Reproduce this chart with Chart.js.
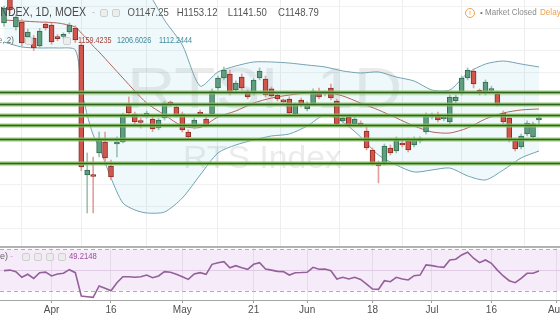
<!DOCTYPE html>
<html>
<head>
<meta charset="utf-8">
<script src="https://cdn.jsdelivr.net/npm/chart.js@4.4.1/dist/chart.umd.min.js"></script>
<style>
  html, body { margin: 0; padding: 0; background: #fff; }
  #wrap { position: relative; width: 560px; height: 315px; overflow: hidden; }
  #main { position: absolute; left: 0; top: 0; }
  #rsi { position: absolute; left: 0; top: 245px; }
</style>
</head>
<body>
<div id="wrap">
  <canvas id="main" width="560" height="247"></canvas>
  <canvas id="rsi" width="560" height="70"></canvas>
</div>
<script>
// daily candles, RTS Index, one entry per trading day (index 0 = 21 Mar)
const opens = [1256.0, 1289.0, 1251.5, 1257.1, 1240.3, 1239.1, 1230.1, 1254.8, 1253.7, 1240.3,
  1241.0, 1245.9, 1250.4, 1231.3, 1085.3, 1084.8, 1110.0, 1122.3, 1095.4, 1120.1,
  1122.3, 1163.9, 1153.8, 1144.8, 1151.5, 1148.2, 1138.1, 1149.3, 1166.1, 1161.6,
  1153.8, 1133.6, 1139.2, 1156.0, 1148.2, 1153.8, 1183.0, 1194.2, 1198.7, 1180.7,
  1195.3, 1177.4, 1177.4, 1194.2, 1193.1, 1181.9, 1175.1, 1167.8, 1170.6, 1153.8,
  1169.5, 1159.4, 1165.0, 1178.5, 1176.8, 1183.0, 1168.4, 1146.0, 1150.4, 1142.6,
  1143.7, 1134.7, 1113.3, 1098.8, 1098.8, 1115.6, 1112.2, 1120.1, 1123.5, 1119.0,
  1123.5, 1133.6, 1151.0, 1152.7, 1148.2, 1144.8, 1168.4, 1177.4, 1194.2, 1202.1,
  1178.5, 1177.4, 1180.2, 1176.2, 1154.9, 1149.3, 1123.5, 1116.7, 1131.3, 1128.0,
  1147.25]
const highs = [1275.0, 1292.0, 1265.0, 1260.0, 1249.0, 1242.0, 1250.0, 1257.5, 1256.0, 1243.0,
  1245.0, 1256.0, 1253.0, 1233.0, 1110.0, 1105.5, 1133.6, 1133.6, 1102.0, 1128.0,
  1154.9, 1172.9, 1156.0, 1149.0, 1157.0, 1151.0, 1149.0, 1168.4, 1168.4, 1164.0,
  1156.0, 1136.0, 1149.3, 1158.3, 1151.0, 1181.9, 1196.4, 1206.6, 1203.2, 1191.0,
  1198.7, 1181.0, 1194.2, 1205.5, 1196.4, 1184.1, 1177.4, 1170.6, 1173.0, 1166.1,
  1171.7, 1167.3, 1181.9, 1183.0, 1179.6, 1187.5, 1170.6, 1151.5, 1152.7, 1150.4,
  1146.0, 1139.2, 1115.6, 1101.0, 1120.1, 1119.0, 1128.0, 1124.6, 1127.0, 1128.0,
  1128.0, 1155.0, 1154.9, 1156.0, 1151.5, 1175.1, 1175.1, 1196.4, 1205.5, 1204.4,
  1181.9, 1192.0, 1185.0, 1179.6, 1157.2, 1151.5, 1126.0, 1131.3, 1146.0, 1144.8,
  1153.12]
const lows = [1252.0, 1266.5, 1248.0, 1230.0, 1237.0, 1225.0, 1228.0, 1248.0, 1232.0, 1236.0,
  1238.0, 1244.0, 1234.0, 1090.0, 1042.6, 1042.6, 1105.5, 1096.5, 1079.7, 1105.5,
  1121.2, 1152.7, 1142.6, 1138.0, 1149.0, 1134.0, 1136.0, 1147.0, 1163.0, 1150.4,
  1133.6, 1125.7, 1137.0, 1151.5, 1139.2, 1151.5, 1180.7, 1192.0, 1175.1, 1178.0,
  1180.7, 1170.6, 1175.1, 1192.0, 1172.9, 1171.7, 1168.4, 1165.0, 1152.7, 1151.5,
  1161.6, 1157.2, 1163.0, 1170.6, 1174.0, 1169.5, 1140.3, 1143.7, 1139.2, 1140.3,
  1139.2, 1113.3, 1096.5, 1076.3, 1096.5, 1107.7, 1110.0, 1116.7, 1111.1, 1116.7,
  1121.2, 1131.3, 1148.2, 1144.8, 1146.0, 1142.6, 1166.1, 1175.1, 1192.0, 1183.0,
  1175.1, 1175.1, 1177.4, 1162.7, 1142.6, 1122.3, 1112.2, 1114.5, 1129.1, 1125.7,
  1141.50]
const closes = [1272.8, 1270.6, 1262.7, 1233.5, 1245.9, 1227.9, 1247.0, 1250.4, 1234.6, 1238.5,
  1242.0, 1253.7, 1236.9, 1094.3, 1090.9, 1083.6, 1125.7, 1104.4, 1083.0, 1120.8,
  1152.7, 1154.9, 1144.8, 1144.2, 1154.9, 1136.9, 1147.0, 1166.1, 1165.0, 1152.7,
  1135.8, 1128.0, 1147.0, 1153.8, 1141.4, 1179.6, 1194.2, 1203.2, 1177.4, 1188.6,
  1183.0, 1172.9, 1192.0, 1202.1, 1175.1, 1174.0, 1170.6, 1167.3, 1154.9, 1163.9,
  1163.9, 1165.0, 1179.6, 1172.9, 1177.4, 1171.7, 1142.6, 1149.3, 1141.4, 1148.2,
  1141.4, 1115.6, 1098.8, 1095.4, 1117.8, 1110.0, 1124.6, 1119.0, 1113.3, 1125.7,
  1125.7, 1152.7, 1152.0, 1147.0, 1148.8, 1172.9, 1172.9, 1194.2, 1203.2, 1187.5,
  1178.0, 1189.7, 1180.7, 1165.0, 1144.8, 1124.6, 1114.5, 1129.1, 1143.7, 1142.6,
  1148.79]

// Bollinger Bands (20, 2) read at these candle indexes
const bandIdx = [0, 3, 6, 9, 12, 13, 14, 15, 16, 18, 20, 22, 24, 27, 30, 33, 36, 39, 42, 45,
  48, 51, 54, 57, 60, 63, 66, 69, 72, 75, 78, 81, 84, 87, 90]
const bbUpper = [1290, 1288, 1286, 1284, 1284, 1300, 1310, 1315, 1318, 1320, 1315, 1305, 1293, 1259.3, 1231.3,
  1185.2, 1201.0, 1207.7, 1212.2, 1212.2, 1211.0, 1208.8, 1206.6, 1202.1, 1199.8, 1201.0, 1195.3, 1190.8,
  1180.7, 1180.7, 1199.8, 1209.9, 1213.3, 1209.9, 1206.6026]
const bbBasis = [1259.3, 1258.2, 1257.1, 1256.0, 1251.5, 1244.7, 1238.0, 1230.1, 1223.4, 1208.8, 1194.2,
  1179.6, 1166.1, 1152.7, 1140.3, 1138.6, 1150.4, 1157.2, 1166.1, 1171.7, 1175.1, 1177.4, 1178.5, 1174.0,
  1166.1, 1158.3, 1149.3, 1140.3, 1133.6, 1132.4, 1138.1, 1148.2, 1154.9, 1158.3, 1159.4235]
const bbLower = [1234.6, 1229.0, 1227.9, 1227.9, 1225.7, 1183.0, 1152.7, 1130.2, 1116.7, 1081.9, 1053.8,
  1046.0, 1042.6, 1043.7, 1059.4, 1085.3, 1110.0, 1119.0, 1124.6, 1129.1, 1131.3, 1140.3, 1152.7, 1144.8,
  1128.0, 1107.7, 1096.5, 1088.6, 1090.9, 1093.1, 1084.2, 1079.7, 1090.9, 1104.4, 1112.2444]

// RSI (14), one value per candle
const rsi = [49.5, 50, 48.5, 43, 46, 42, 47.5, 48, 44.3, 46.2,
  46.9, 50.4, 47.5, 24.9, 24.2, 23.6, 34.6, 32.3, 30, 37.8,
  43.6, 43.6, 43, 43.6, 45.2, 42.6, 44.3, 48.5, 47.9, 45.9,
  43.6, 41, 46.2, 47.5, 45.9, 55.6, 57.2, 58.2, 52.3, 54.3,
  52.3, 50.8, 55.6, 57.2, 51, 50, 48.8, 48.5, 45.2, 47.5,
  47.6, 47.9, 52.7, 50.8, 51, 49.4, 41.4, 43, 41.4, 43,
  41, 36.5, 31.6, 31.3, 39.7, 38.7, 43, 41.4, 40.4, 44.6,
  45.2, 55, 54.3, 53.3, 52.7, 59.8, 60.5, 64.7, 67.3, 61.5,
  57.2, 59.8, 56.6, 50, 44.3, 39.7, 37.8, 42, 46.9, 46.9,
  49.2148]

// support / resistance lines drawn on the chart
const levels = [1178.3, 1165.2, 1153.2, 1141.4, 1125.5, 1099.0]

// time axis
const tickIdx = [8, 18, 30, 42, 51, 62, 72, 82, 93]
const tickLabels = ["Apr", "16", "May", "21", "Jun", "18", "Jul", "16", "Aug"]
const priceGrid = [1025, 1050, 1075, 1100, 1125, 1150, 1175, 1200, 1225, 1250, 1275]

const X_MIN = -0.673
const X_MAX = 93.54

const UP = "#5f9e7f", UP_EDGE = "#336b50", DN = "#d1564b", DN_EDGE = "#8c2c25"
const BAND = "#74a3b0", BASIS = "#b0655c", RSI_COLOR = "#93609a"

const idx = opens.map((_, i) => i)
const isUp = i => closes[i] >= opens[i]

function label(ctx, s, x, y, font, color, sx, align) {
  ctx.save()
  ctx.font = font
  ctx.fillStyle = color
  ctx.textBaseline = "middle"
  ctx.textAlign = align || "left"
  ctx.translate(x, y)
  ctx.scale(sx || 1, 1)
  ctx.fillText(s, 0, 0)
  ctx.restore()
}

function iconBox(ctx, x, y) {
  ctx.save()
  ctx.fillStyle = "rgba(235,235,235,0.9)"
  ctx.strokeStyle = "#cfcfcf"
  ctx.lineWidth = 1
  ctx.beginPath()
  ctx.roundRect(x + 0.5, y + 0.5, 7, 7, 1.5)
  ctx.fill()
  ctx.stroke()
  ctx.restore()
}

const mainDecor = {
  id: "mainDecor",
  beforeDatasetsDraw(chart) {
    const ctx = chart.ctx
    // watermark
    label(ctx, "RTSI, 1D", 127, 92, "58px 'Liberation Sans'", "rgba(90,90,90,0.12)", 1.16)
    label(ctx, "RTS Index", 183, 159, "31px 'Liberation Sans'", "rgba(90,90,90,0.12)", 1.09)
  },
  afterDatasetsDraw(chart) {
    const ctx = chart.ctx
    const y = chart.scales.y
    const { left, right } = chart.chartArea
    ctx.save()
    levels.forEach(v => {
      const py = Math.round(y.getPixelForValue(v)) + 0.5
      ctx.strokeStyle = "rgba(139,195,100,0.85)"
      ctx.lineWidth = 4
      ctx.beginPath(); ctx.moveTo(left, py); ctx.lineTo(right, py); ctx.stroke()
      ctx.strokeStyle = "#2f6320"
      ctx.lineWidth = 1.6
      ctx.beginPath(); ctx.moveTo(left, py); ctx.lineTo(right, py); ctx.stroke()
    })
    ctx.restore()
  },
  afterDraw(chart) {
    const ctx = chart.ctx
    const f = "12px 'Liberation Sans'"
    label(ctx, "INDEX, 1D, MOEX", 86, 13, f, "#4a4a4a", 0.88, "right")
    label(ctx, "-", 92, 13, "9px 'Liberation Sans'", "#b5b5b5")
    iconBox(ctx, 100, 9)
    iconBox(ctx, 112, 9)
    const ohlc = ["O1147.25", "H1153.12", "L1141.50", "C1148.79"]
    const ox = [127.5, 176.7, 227.7, 278]
    ohlc.forEach((s, k) => label(ctx, s, ox[k], 13, "11px 'Liberation Sans'", "#555", 0.87))

    // market status
    ctx.save()
    ctx.strokeStyle = "#f0a04b"
    ctx.lineWidth = 1
    ctx.beginPath(); ctx.arc(470, 13, 4.5, 0, Math.PI * 2); ctx.stroke()
    ctx.restore()
    label(ctx, "!", 470, 13, "bold 6px 'Liberation Sans'", "#f0a04b", 1, "center")
    label(ctx, "\u2022", 480, 13, "8px 'Liberation Sans'", "#777")
    label(ctx, "Market Closed", 485, 13, "9px 'Liberation Sans'", "#8a8a8a", 0.89)
    label(ctx, "Delay", 540, 13, "9px 'Liberation Sans'", "#f0a04b", 0.9)

    // Bollinger legend
    label(ctx, "se, 2)", 14, 41, "9px 'Liberation Sans'", "#666", 0.9, "right")
    iconBox(ctx, 25, 37)
    iconBox(ctx, 63, 37)
    label(ctx, "1159.4235", 78, 41, "8.5px 'Liberation Sans'", "#a8463d", 0.85)
    label(ctx, "1206.6026", 117, 41, "8.5px 'Liberation Sans'", "#3b8a9c", 0.85)
    label(ctx, "1112.2444", 159, 41, "8.5px 'Liberation Sans'", "#3b8a9c", 0.85)
  }
}

const rsiDecor = {
  id: "rsiDecor",
  beforeDatasetsDraw(chart) {
    const ctx = chart.ctx
    const y = chart.scales.y
    const { left, right } = chart.chartArea
    const y70 = y.getPixelForValue(70), y30 = y.getPixelForValue(30)
    ctx.save()
    ctx.fillStyle = "rgba(170,80,200,0.11)"
    ctx.fillRect(left, y70, right - left, y30 - y70)
    ctx.strokeStyle = "#b9a6bf"
    ctx.lineWidth = 1
    ctx.setLineDash([4, 3])
    ;[y70, y30].forEach(py => {
      ctx.beginPath(); ctx.moveTo(left, Math.round(py) + 0.5); ctx.lineTo(right, Math.round(py) + 0.5); ctx.stroke()
    })
    ctx.restore()
  },
  afterDraw(chart) {
    const ctx = chart.ctx
    const { left, right, top, bottom } = chart.chartArea
    ctx.save()
    ctx.strokeStyle = "#b2b2b2"
    ctx.lineWidth = 2
    ctx.beginPath(); ctx.moveTo(left, top); ctx.lineTo(right, top); ctx.stroke()
    ctx.strokeStyle = "#a5a5a5"
    ctx.lineWidth = 1
    ctx.beginPath(); ctx.moveTo(left, bottom + 0.5); ctx.lineTo(right, bottom + 0.5); ctx.stroke()
    ctx.restore()
    label(ctx, "e)", 0, 12, "9px 'Liberation Sans'", "#666")
    label(ctx, "-", 10, 12, "9px 'Liberation Sans'", "#b5b5b5")
    ;[22, 34, 46, 58].forEach(x => iconBox(ctx, x, 8))
    label(ctx, "49.2148", 69, 12, "8.5px 'Liberation Sans'", "#9c4a9c", 0.9)
  }
}

const hiddenY = { ticks: { display: false }, border: { display: false } }

new Chart(document.getElementById("main"), {
  type: "bar",
  data: {
    datasets: [
      {
        label: "wick",
        data: idx.map(i => ({ x: i, y: [lows[i], highs[i]] })),
        backgroundColor: c => isUp(c.dataIndex) ? "#9cc3ae" : "#e3a19b",
        barThickness: 1,
        grouped: false,
        order: 3
      },
      {
        label: "body",
        data: idx.map(i => ({ x: i, y: [opens[i], closes[i]] })),
        backgroundColor: c => isUp(c.dataIndex) ? UP : DN,
        borderColor: c => isUp(c.dataIndex) ? UP_EDGE : DN_EDGE,
        borderWidth: 1,
        borderSkipped: false,
        barThickness: 5,
        minBarLength: 2,
        grouped: false,
        order: 2
      },
      {
        type: "line",
        label: "upper",
        data: bandIdx.map((i, k) => ({ x: i, y: bbUpper[k] })),
        borderColor: BAND,
        borderWidth: 1,
        pointRadius: 0,
        tension: 0.25,
        fill: { target: 4 },
        backgroundColor: "rgba(33,150,200,0.07)",
        order: 6
      },
      {
        type: "line",
        label: "basis",
        data: bandIdx.map((i, k) => ({ x: i, y: bbBasis[k] })),
        borderColor: BASIS,
        borderWidth: 1,
        pointRadius: 0,
        tension: 0.25,
        order: 5
      },
      {
        type: "line",
        label: "lower",
        data: bandIdx.map((i, k) => ({ x: i, y: bbLower[k] })),
        borderColor: BAND,
        borderWidth: 1,
        pointRadius: 0,
        tension: 0.25,
        order: 6
      }
    ]
  },
  options: {
    responsive: false,
    animation: false,
    events: [],
    layout: { padding: 0 },
    plugins: { legend: { display: false }, tooltip: { enabled: false } },
    scales: {
      x: {
        type: "linear",
        min: X_MIN,
        max: X_MAX,
        offset: false,
        afterBuildTicks: ax => { ax.ticks = tickIdx.map(v => ({ value: v })) },
        afterFit: ax => { ax.height = 0; ax.paddingLeft = 0; ax.paddingRight = 0 },
        ticks: { display: false },
        grid: { color: "#ededed", drawTicks: false },
        border: { display: false }
      },
      y: {
        ...hiddenY,
        min: 1004.4,
        max: 1281.8,
        afterBuildTicks: ax => { ax.ticks = priceGrid.map(v => ({ value: v })) },
        afterFit: ax => { ax.width = 0 },
        grid: { color: "#f1f1f1", drawTicks: false }
      }
    }
  },
  plugins: [mainDecor]
})

new Chart(document.getElementById("rsi"), {
  type: "line",
  data: {
    datasets: [{
      label: "RSI",
      data: rsi.map((v, i) => ({ x: i, y: v })),
      borderColor: RSI_COLOR,
      borderWidth: 1.6,
      pointRadius: 0,
      tension: 0
    }]
  },
  options: {
    responsive: false,
    animation: false,
    events: [],
    layout: { padding: { top: 2, left: 0, right: 0, bottom: 0 } },
    plugins: { legend: { display: false }, tooltip: { enabled: false } },
    scales: {
      x: {
        type: "linear",
        min: X_MIN,
        max: X_MAX,
        offset: false,
        afterBuildTicks: ax => { ax.ticks = tickIdx.map(v => ({ value: v })) },
        afterFit: ax => { ax.height = 15; ax.paddingLeft = 0; ax.paddingRight = 0 },
        ticks: {
          autoSkip: false,
          maxRotation: 0,
          padding: 1,
          color: "#4f4f4f",
          font: { family: "'Liberation Sans'", size: 10 },
          callback: (v, i) => tickLabels[i]
        },
        grid: { color: "#ececec", tickLength: 3, tickColor: "#9a9a9a" },
        border: { display: false }
      },
      y: {
        ...hiddenY,
        min: 21,
        max: 72.4,
        afterBuildTicks: ax => { ax.ticks = [{ value: 50 }] },
        afterFit: ax => { ax.width = 0 },
        grid: { color: "#e6dce8", drawTicks: false }
      }
    }
  },
  plugins: [rsiDecor]
})
</script>
</body>
</html>
